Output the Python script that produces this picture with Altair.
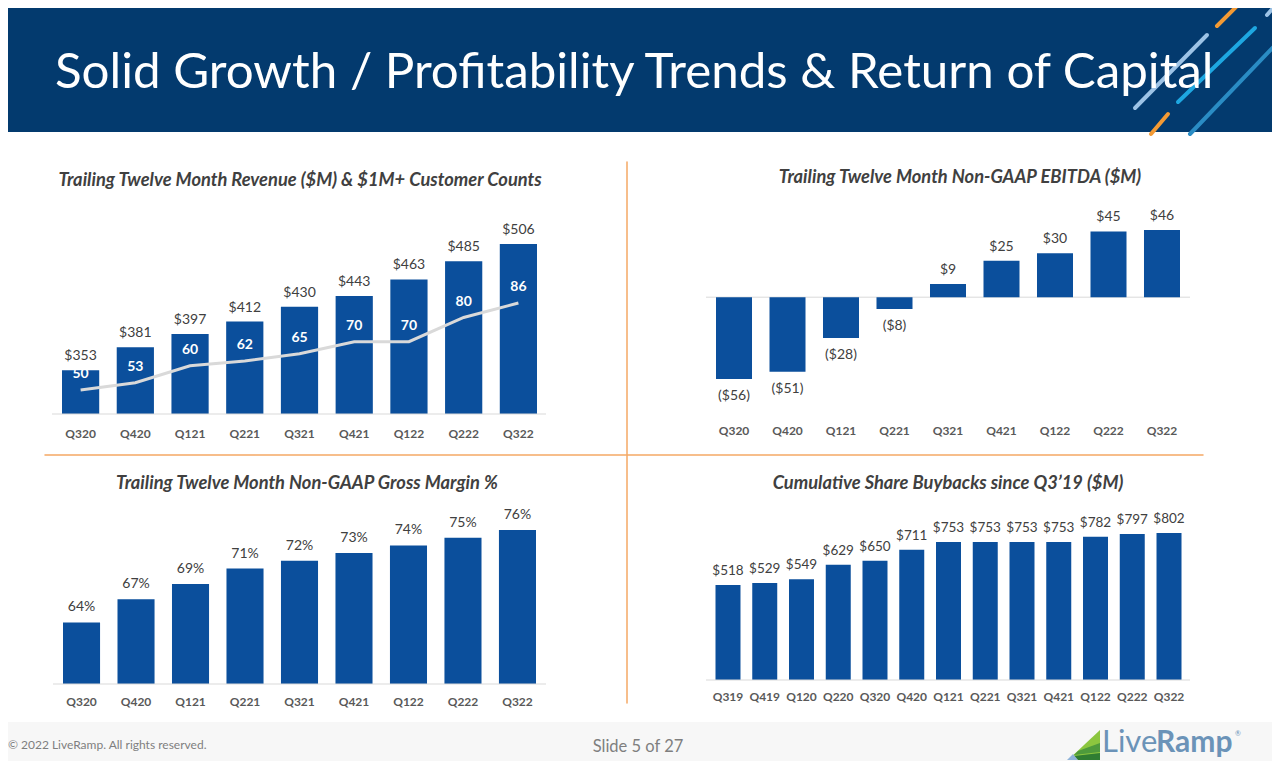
import altair as alt
import pandas as pd

# ---------------- data ----------------
quarters9 = ["Q320", "Q420", "Q121", "Q221", "Q321", "Q421", "Q122", "Q222", "Q322"]
revenue = [353, 381, 397, 412, 430, 443, 463, 485, 506]
customers = [50, 53, 60, 62, 65, 70, 70, 80, 86]
ebitda = [-56, -51, -28, -8, 9, 25, 30, 45, 46]
gross_margin = [64, 67, 69, 71, 72, 73, 74, 75, 76]
quarters13 = ["Q319", "Q419", "Q120", "Q220", "Q320", "Q420", "Q121", "Q221",
              "Q321", "Q421", "Q122", "Q222", "Q322"]
buybacks = [518, 529, 549, 629, 650, 711, 753, 753, 753, 753, 782, 797, 802]

main_title = "Solid Growth / Profitability Trends & Return of Capital"
titles = [
    "Trailing Twelve Month Revenue ($M) & $1M+ Customer Counts",
    "Trailing Twelve Month Non-GAAP EBITDA ($M)",
    "Trailing Twelve Month Non-GAAP Gross Margin %",
    "Cumulative Share Buybacks since Q3\u201919 ($M)",
]
footer_left = "\u00a9 2022  LiveRamp. All rights reserved."
footer_mid = "Slide 5 of 27"

# ---------------- style ----------------
O = 8
def px(v):
    return v - O

W, H = 1264, 753
FONT = "Lato"
NAVY = "#033a6e"
BAR = "#0b4f9c"
LABEL = "#404040"
TICK = "#595959"
AXIS = "#d9d9d9"
ORANGE = "#f5a864"

layers = []

def txt(s, x, y, **kw):
    return alt.Chart(pd.DataFrame({"t": [s]})).mark_text(font=FONT, **kw).encode(
        text="t:N", x=alt.value(x), y=alt.value(y))

def seg(x1, y1, x2, y2, color, width):
    return alt.Chart(pd.DataFrame({"a": [0]})).mark_rule(
        color=color, strokeWidth=width, strokeCap="round").encode(
        x=alt.value(x1), y=alt.value(y1), x2=alt.value(x2), y2=alt.value(y2))

def rect(x1, y1, x2, y2, color):
    return alt.Chart(pd.DataFrame({"a": [0]})).mark_rect(color=color).encode(
        x=alt.value(x1), y=alt.value(y1), x2=alt.value(x2), y2=alt.value(y2))

# header & footer backgrounds
layers.append(rect(0, 0, W, px(132), NAVY))
layers.append(rect(0, px(722), W, H, "#f7f7f7"))

# header decorative strokes
layers += [
    seg(px(1217), px(26), px(1245), px(-2), "#f39a34", 4),
    seg(px(1135), px(108), px(1207), px(35), "#9dc3e6", 4),
    seg(px(1178), px(102), px(1255), px(28), "#1ea7e1", 4),
    seg(px(1151), px(134), px(1168), px(114), "#f39a34", 4),
    seg(px(1267), px(15), px(1282), px(-2), "#9dc3e6", 4),
    seg(px(1190), px(134), px(1282), px(38), "#2a8cc4", 4),
]
layers.append(txt(main_title, px(55), px(88), fontSize=49.3, color="white",
                  align="left", baseline="alphabetic"))

# separators
layers.append(seg(px(627), px(162), px(627), px(703), ORANGE, 1.5))
layers.append(seg(px(45), px(455), px(1203), px(455), ORANGE, 1.5))

# panel titles
title_kw = dict(fontSize=18.3, fontStyle="italic", fontWeight="bold", color=LABEL,
                align="center", baseline="alphabetic")
layers.append(txt(titles[0], px(300), px(186), **title_kw))
layers.append(txt(titles[1], px(960), px(183), **title_kw))
layers.append(txt(titles[2], px(307), px(489), **title_kw))
layers.append(txt(titles[3], px(948), px(489), **title_kw))

val_kw = dict(font=FONT, fontSize=14, color=LABEL, baseline="alphabetic")
tick_kw = dict(font=FONT, fontSize=12, fontWeight="bold", color=TICK, baseline="alphabetic")

# ---------------- panel 1: revenue + customers ----------------
df1 = pd.DataFrame({"q": quarters9, "rev": revenue, "cust": customers})
df1["rev_label"] = ["$" + str(v) for v in revenue]
df1["cust_label"] = [str(v) for v in customers]
xs1 = alt.Scale(type="band", domain=quarters9, range=[px(62), px(537)],
                paddingInner=0.32, paddingOuter=0)
ys1 = alt.Scale(domain=[300, 506], range=[px(414), px(244)], zero=False, nice=False)
cs1 = alt.Scale(domain=[50, 86], range=[px(390), px(303)], zero=False, nice=False)
X1 = alt.X("q:N", scale=xs1, axis=None, sort=quarters9)
c1 = alt.Chart(df1)
layers.append(c1.mark_bar(color=BAR).encode(
    x=X1, y=alt.Y("rev:Q", scale=ys1, axis=None), y2=alt.datum(300)))
layers.append(c1.mark_text(dy=-10, **val_kw).encode(
    x=X1, y=alt.Y("rev:Q", scale=ys1, axis=None), text="rev_label:N"))
layers.append(c1.mark_line(color=AXIS, strokeWidth=3).encode(
    x=X1, y=alt.Y("cust:Q", scale=cs1, axis=None)))
layers.append(c1.mark_text(dy=-12, font=FONT, fontSize=14, fontWeight="bold",
                           color="white", baseline="alphabetic").encode(
    x=X1, y=alt.Y("cust:Q", scale=cs1, axis=None), text="cust_label:N"))
layers.append(c1.mark_text(dy=24, **tick_kw).encode(
    x=X1, y=alt.YDatum(300, scale=ys1, axis=None), text="q:N"))
layers.append(alt.Chart(pd.DataFrame({"a": [0]})).mark_rule(color=AXIS).encode(
    x=alt.value(px(52)), x2=alt.value(px(546)), y=alt.YDatum(300, scale=ys1, axis=None)))

# ---------------- panel 2: EBITDA ----------------
df2 = pd.DataFrame({"q": quarters9, "v": ebitda})
df2["lab"] = [("($" + str(-v) + ")") if v < 0 else ("$" + str(v)) for v in ebitda]
xs2 = alt.Scale(type="band", domain=quarters9, range=[px(716), px(1180)],
                paddingInner=0.327, paddingOuter=0)
ys2 = alt.Scale(domain=[-56, 46], range=[px(379), px(230)], zero=False, nice=False)
X2 = alt.X("q:N", scale=xs2, axis=None, sort=quarters9)
Y2 = alt.Y("v:Q", scale=ys2, axis=None)
c2 = alt.Chart(df2)
layers.append(alt.Chart(pd.DataFrame({"a": [0]})).mark_rule(color=AXIS).encode(
    x=alt.value(px(706)), x2=alt.value(px(1190)), y=alt.YDatum(0, scale=ys2, axis=None)))
layers.append(c2.mark_bar(color=BAR).encode(x=X2, y=Y2, y2=alt.datum(0)))
layers.append(c2.transform_filter("datum.v >= 0").mark_text(dy=-10, **val_kw).encode(
    x=X2, y=Y2, text="lab:N"))
layers.append(c2.transform_filter("datum.v < 0").mark_text(
    dy=21, font=FONT, fontSize=14, color=LABEL, baseline="alphabetic").encode(
    x=X2, y=Y2, text="lab:N"))
layers.append(c2.mark_text(dy=56, **tick_kw).encode(
    x=X2, y=alt.YDatum(-56, scale=ys2, axis=None), text="q:N"))

# ---------------- panel 3: gross margin ----------------
df3 = pd.DataFrame({"q": quarters9, "v": gross_margin})
df3["lab"] = [str(v) + "%" for v in gross_margin]
xs3 = alt.Scale(type="band", domain=quarters9, range=[px(63), px(536)],
                paddingInner=0.32, paddingOuter=0)
ys3 = alt.Scale(domain=[56, 76], range=[px(684), px(530)], zero=False, nice=False)
X3 = alt.X("q:N", scale=xs3, axis=None, sort=quarters9)
Y3 = alt.Y("v:Q", scale=ys3, axis=None)
c3 = alt.Chart(df3)
layers.append(c3.mark_bar(color=BAR).encode(x=X3, y=Y3, y2=alt.datum(56)))
layers.append(c3.mark_text(dy=-11, **val_kw).encode(x=X3, y=Y3, text="lab:N"))
layers.append(c3.mark_text(dy=22, **tick_kw).encode(
    x=X3, y=alt.YDatum(56, scale=ys3, axis=None), text="q:N"))
layers.append(alt.Chart(pd.DataFrame({"a": [0]})).mark_rule(color=AXIS).encode(
    x=alt.value(px(53)), x2=alt.value(px(546)), y=alt.YDatum(56, scale=ys3, axis=None)))

# ---------------- panel 4: buybacks ----------------
df4 = pd.DataFrame({"q": quarters13, "v": buybacks})
df4["lab"] = ["$" + str(v) for v in buybacks]
xs4 = alt.Scale(type="band", domain=quarters13, range=[px(715.5), px(1181.5)],
                paddingInner=0.32, paddingOuter=0)
ys4 = alt.Scale(domain=[0, 802], range=[px(680), px(533)], zero=False, nice=False)
X4 = alt.X("q:N", scale=xs4, axis=None, sort=quarters13)
Y4 = alt.Y("v:Q", scale=ys4, axis=None)
c4 = alt.Chart(df4)
layers.append(c4.mark_bar(color=BAR).encode(x=X4, y=Y4, y2=alt.datum(0)))
layers.append(c4.mark_text(dy=-10, font=FONT, fontSize=13.5, color=LABEL,
                           baseline="alphabetic").encode(x=X4, y=Y4, text="lab:N"))
layers.append(c4.mark_text(dy=21, **tick_kw).encode(
    x=X4, y=alt.YDatum(0, scale=ys4, axis=None), text="q:N"))
layers.append(alt.Chart(pd.DataFrame({"a": [0]})).mark_rule(color=AXIS).encode(
    x=alt.value(px(706)), x2=alt.value(px(1190)), y=alt.YDatum(0, scale=ys4, axis=None)))

# ---------------- footer ----------------
layers.append(txt(footer_left, 0, px(749), fontSize=12, color="#7f7f7f",
                  align="left", baseline="alphabetic"))
layers.append(txt(footer_mid, px(638), px(752), fontSize=16.5, color="#7f7f7f",
                  align="center", baseline="alphabetic"))
# logo
def shape(path, color, x, y):
    return alt.Chart(pd.DataFrame({"a": [0]})).mark_point(
        shape=path, size=4, filled=True, opacity=1, color=color, strokeWidth=0).encode(
        x=alt.value(x), y=alt.value(y))
lx, ly = px(1100), px(760)
layers.append(shape("M -32 0 L 0 -30 L 0 0 Z", "#8cc63f", lx, ly))
layers.append(shape("M -22 -9 L 0 -17 L 0 -8 L -26 -5 Z", "#4e9a3c", lx, ly))
layers.append(shape("M -26 -4 L 0 -7 L 0 0 L -22 0 Z", "#2f7d32", lx, ly))
layers.append(shape("M -33 0 L -27 -6 L -22 0 Z", "#8fb3d9", lx, ly))
layers.append(txt("Live", px(1102), px(752), fontSize=31, color="#6b93b8",
                  align="left", baseline="alphabetic"))
layers.append(txt("Ramp", px(1156), px(752), fontSize=30, fontWeight="bold",
                  color="#6b93b8", align="left", baseline="alphabetic"))
layers.append(txt("\u00ae", px(1235), px(736), fontSize=7, color="#6b93b8",
                  align="left", baseline="alphabetic"))

chart = alt.layer(*layers).resolve_scale(x="independent", y="independent").properties(
    width=W, height=H, padding=0, autosize=alt.AutoSizeParams(type="none"),
    background="white"
).configure_view(stroke=None)

chart.save("out.html", embed_options={"renderer": "svg", "actions": False})
